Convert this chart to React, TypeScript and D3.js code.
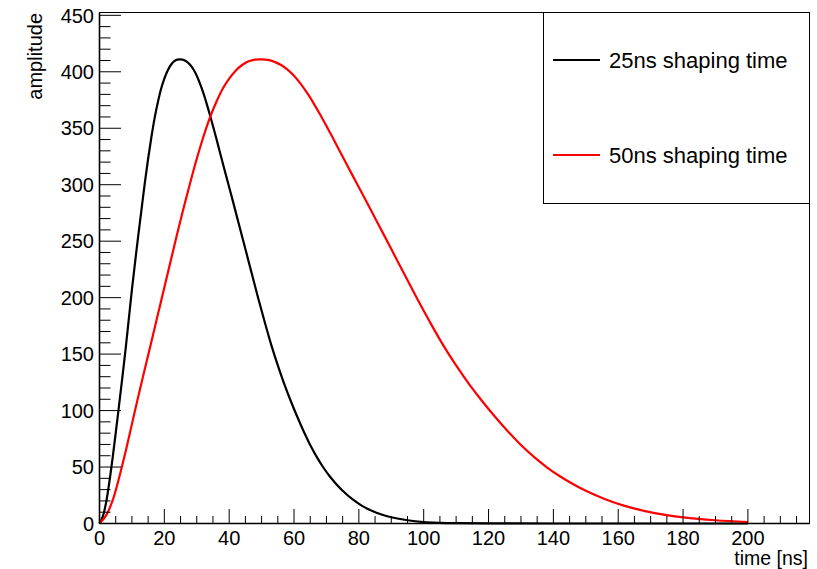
import React from "react";
import * as d3 from "d3";

const W = 817;
const H = 569;

// time samples (ns) and amplitudes
const blackT = [0, 1, 2, 3, 4, 5, 6, 7, 8, 9, 10, 11, 12, 13, 14, 15, 16, 17, 18, 19, 20, 21, 22, 23, 24, 25, 26, 27, 28, 29, 30, 31, 32, 33, 34, 35, 36, 37, 39, 41, 43, 45, 47, 49, 51, 53, 55, 57, 59, 61, 63, 65, 67, 69, 71, 73, 75, 78, 81, 84, 87, 90, 95, 100, 105, 110, 120, 140, 170, 200];
const blackA = [0, 6, 18, 36, 57, 80, 104, 128, 153, 180, 207, 232, 256, 279, 302, 323, 342, 359, 373, 385, 394, 401, 406, 409.3, 410.8, 411, 410.5, 408.8, 406, 402, 396.5, 389.5, 381.5, 372.3, 362.4, 352, 341.3, 330.3, 308.5, 287, 265, 243, 221, 199, 178, 158, 140, 123.5, 108.5, 94.5, 81.5, 69.5, 59, 49.8, 41.8, 35, 29, 21.5, 15.6, 11.2, 7.9, 5.5, 2.9, 1.3, 0.6, 0.25, 0.05, 0, 0, 0];

const redT = [0, 2, 4, 6, 8, 10, 12, 14, 16, 18, 20, 22, 24, 26, 28, 30, 32, 34, 36, 38, 40, 42, 44, 46, 48, 50, 52, 54, 56, 58, 60, 62, 64, 66, 68, 70, 72, 74, 78, 82, 86, 90, 94, 98, 102, 106, 110, 114, 118, 122, 126, 130, 134, 138, 142, 146, 150, 156, 162, 168, 174, 180, 190, 200];
const redA = [0, 7, 20, 40, 63, 88, 113, 137, 161, 185, 209, 233, 257, 280, 302, 323, 342, 359, 373, 385, 394, 401, 406, 409.3, 410.8, 411, 410.5, 408.8, 406, 402, 396.5, 389.5, 381.5, 372.3, 362.4, 352, 341.3, 330.3, 308.5, 287, 265, 243, 221, 199, 178, 158, 140, 123.5, 108.5, 94.5, 81.5, 69.5, 59, 49.8, 41.8, 35, 29, 21.5, 15.6, 11.2, 7.9, 5.5, 2.9, 1.3];

const seriesLabels = ["25ns shaping time", "50ns shaping time"];
const seriesColors = ["#000000", "#ff0000"];

const xMajor = [0, 20, 40, 60, 80, 100, 120, 140, 160, 180, 200];
const yMajor = [0, 50, 100, 150, 200, 250, 300, 350, 400, 450];
const xMinorStep = 5;
const yMinorStep = 10;

const xDomain = [0, 219];
const yDomain = [0, 452.5];

const xTitle = "time [ns]";
const yTitle = "amplitude";

export default function App() {
  const left = 99.5, right = 809.5, top = 12.5, bottom = 523.5;
  const x = d3.scaleLinear().domain(xDomain).range([left, right]);
  const y = d3.scaleLinear().domain(yDomain).range([bottom, top]);

  const line = d3
    .line<[number, number]>()
    .x((d) => x(d[0]))
    .y((d) => y(d[1]))
    .curve(d3.curveCatmullRom.alpha(0.5));

  const blackPts: [number, number][] = blackT.map((t, i) => [t, blackA[i]]);
  const redPts: [number, number][] = redT.map((t, i) => [t, redA[i]]);

  const xMinor = d3.range(xDomain[0], xDomain[1] + 0.001, xMinorStep).filter((v) => v % 20 !== 0);
  const yMinor = d3.range(yDomain[0], yDomain[1] + 0.001, yMinorStep).filter((v) => v % 50 !== 0);

  const font = "'Liberation Sans', Arial, Helvetica, sans-serif";

  return (
    <svg
      width={W}
      height={H}
      style={{ position: "absolute", left: 0, top: 0, background: "#fff" }}
      fontFamily={font}
    >
      <rect x={0} y={0} width={W} height={H} fill="#fff" />
      {/* frame */}
      <rect x={left} y={top} width={right - left} height={bottom - top} fill="none" stroke="#000" strokeWidth={1} />

      {/* curves */}
      <path d={line(blackPts) || ""} fill="none" stroke={seriesColors[0]} strokeWidth={2.2} strokeLinejoin="round" />
      <path d={line(redPts) || ""} fill="none" stroke={seriesColors[1]} strokeWidth={2.2} strokeLinejoin="round" />

      {/* axes lines */}
      <line x1={left} x2={right} y1={bottom} y2={bottom} stroke="#000" strokeWidth={1.6} />
      <line x1={left} x2={left} y1={top} y2={bottom} stroke="#000" strokeWidth={1.6} />

      {/* x ticks */}
      {xMajor.map((v) => (
        <line key={"xM" + v} x1={x(v)} x2={x(v)} y1={bottom} y2={bottom - 14.5} stroke="#000" strokeWidth={1} />
      ))}
      {xMinor.map((v) => (
        <line key={"xm" + v} x1={x(v)} x2={x(v)} y1={bottom} y2={bottom - 7.5} stroke="#000" strokeWidth={1} />
      ))}
      {xMajor.map((v) => (
        <text key={"xl" + v} x={x(v)} y={545} textAnchor="middle" fontSize={20} fill="#000">
          {v}
        </text>
      ))}

      {/* y ticks */}
      {yMajor.map((v) => (
        <line key={"yM" + v} x1={left} x2={left + 21.5} y1={y(v)} y2={y(v)} stroke="#000" strokeWidth={1} />
      ))}
      {yMinor.map((v) => (
        <line key={"ym" + v} x1={left} x2={left + 11} y1={y(v)} y2={y(v)} stroke="#000" strokeWidth={1} />
      ))}
      {yMajor.map((v) => (
        <text key={"yl" + v} x={94} y={y(v) + 7.2} textAnchor="end" fontSize={20} fill="#000">
          {v}
        </text>
      ))}

      {/* titles */}
      <text x={808} y={565} textAnchor="end" fontSize={19.5} fill="#000">
        {xTitle}
      </text>
      <text transform={`translate(42,13) rotate(-90)`} textAnchor="end" fontSize={20} fill="#000">
        {yTitle}
      </text>

      {/* legend */}
      <rect x={543.5} y={12.5} width={266} height={191} fill="#fff" stroke="#000" strokeWidth={1} />
      {seriesLabels.map((lab, i) => {
        const cy = i === 0 ? 60 : 155;
        return (
          <g key={lab}>
            <line x1={553} x2={600} y1={cy} y2={cy} stroke={seriesColors[i]} strokeWidth={2.2} />
            <text x={609} y={cy + 7.8} fontSize={22} fill="#000">
              {lab}
            </text>
          </g>
        );
      })}
    </svg>
  );
}
